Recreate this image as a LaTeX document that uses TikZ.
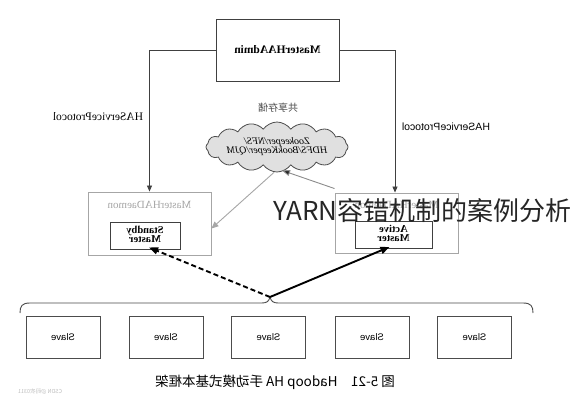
\documentclass[tikz,border=0pt]{standalone}
\usepackage{fontspec}
\usepackage{graphicx}
\setmainfont{Liberation Serif}
\setsansfont{Liberation Sans}
\newfontfamily\cjk{Noto Sans CJK SC}
\usetikzlibrary{shapes.symbols,arrows.meta,calc}
\begin{document}
\begin{tikzpicture}[x=1pt,y=-1pt,
  box/.style={draw=black!75,line width=0.9pt,rectangle,inner sep=0pt},
  daemonbox/.style={draw=black!35,line width=0.9pt,rectangle,inner sep=0pt},
  innerbox/.style={draw=black!75,line width=0.9pt,rectangle,inner sep=0pt,minimum height=27,font=\fontsize{10.5}{11}\selectfont\bfseries,align=center},
  slavebox/.style={draw=black!70,line width=0.8pt,rectangle,minimum width=74,minimum height=42,font=\sffamily\fontsize{9.5}{10}\selectfont},
  lbl/.style={inner sep=0pt},
  conn/.style={draw=black!75,line width=0.8pt,-{Triangle[length=6pt,width=5pt]}},
  greyconn/.style={draw=black!35,line width=0.9pt,-{Triangle[length=7pt,width=6pt]}},
  darkconn/.style={draw=black!45,line width=0.9pt,-{Triangle[length=8pt,width=6pt,fill=black!85]}},
  thick/.style={line width=1.9pt,-{Triangle[length=9pt,width=7pt]}}
]
\useasboundingbox (0,0) rectangle (575,400);
\fill[white] (0,0) rectangle (575,400);

% MasterHAAdmin
\node[box,minimum width=123,minimum height=62,font=\fontsize{11.5}{13}\selectfont\bfseries] (admin) at (277.5,50) {\reflectbox{MasterHAAdmin}};

% shared storage
\node[lbl,font=\cjk\fontsize{10}{11}\selectfont,text=black!70] (sharedlbl) at (278,108) {\reflectbox{共享存储}};
\node[cloud,cloud puffs=16,cloud puff arc=110,aspect=3,draw=black!70,fill=black!12,line width=0.8pt,minimum width=142,minimum height=50,inner sep=0pt] (cloud) at (277,147) {};
\node[lbl,font=\fontsize{10}{11}\selectfont\itshape,align=center] (cloudtxt) at (277,147) {\reflectbox{\begin{tabular}{@{}c@{}}Zookeeper/NFS/\\[-2pt]HDFS/BookKeeper/QJM\end{tabular}}};

% daemons
\node[daemonbox,minimum width=123,minimum height=63] (daemonL) at (149.5,223.5) {};
\node[lbl,font=\fontsize{11}{12}\selectfont,text=black!35] (daemonLtxt) at (149.5,205) {\reflectbox{MasterHADaemon}};
\node[innerbox,minimum width=70] (standby) at (145,235.5) {\reflectbox{\begin{tabular}{@{}c@{}}Standby\\[-2pt]Master\end{tabular}}};

\node[daemonbox,minimum width=123,minimum height=60] (daemonR) at (396.5,223) {};
\node[lbl,font=\fontsize{11}{12}\selectfont,text=black!35] (daemonRtxt) at (396.5,205) {\reflectbox{MasterHADaemon}};
\node[innerbox,minimum width=77] (active) at (393.5,235) {\reflectbox{\begin{tabular}{@{}c@{}}Active\\[-2pt]Master\end{tabular}}};

% protocol connectors
\draw[conn] (admin.west) -| (daemonL.north);
\draw[conn] (admin.east) -| ([xshift=-1.5pt]daemonR.north);
\node[lbl,font=\fontsize{11.5}{12}\selectfont] (protoL) at (98,117) {\reflectbox{HAServiceProtocol}};
\node[lbl,font=\sffamily\fontsize{10.5}{12}\selectfont] (protoR) at (446,127) {\reflectbox{HAServiceProtocol}};

% storage connectors
\draw[greyconn] ([xshift=-3pt]cloud.south) -- ([yshift=-5pt]daemonL.east);
\draw[darkconn] ([yshift=4pt]daemonR.north west) -- ([xshift=5pt,yshift=2pt]cloud.south);

% brace
\coordinate (tip) at (270,297);
\draw[black!70,line width=0.9pt] (20,313) .. controls (20,306) and (22,303) .. (30,303) -- (262,303) .. controls (267,303) and (269,301) .. (tip) .. controls (271,301) and (273,303) .. (278,303) -- (523,303) .. controls (531,303) and (533,306) .. (533,313);

% failover arrows
\draw[thick,dashed,dash pattern=on 5pt off 3pt] (tip) -- ([xshift=4pt,yshift=2pt]standby.south);
\draw[thick] (tip) -- ([xshift=-4pt,yshift=2pt]active.south);

% slaves
\foreach \i/\x in {1/63,2/166,3/268.5,4/372,5/474.5}{
  \node[slavebox] (slave\i) at (\x,337) {\reflectbox{Slave}};
}

% caption
\node[lbl,font=\cjk\fontsize{13.5}{15}\selectfont] (caption) at (275,382) {\reflectbox{图 5-21\quad Hadoop HA 手动模式基本框架}};
\node[lbl,font=\cjk\fontsize{5.5}{6}\selectfont,text=black!25] (csdn) at (40,392) {\reflectbox{CSDN @码农0311}};

% overlay watermark
\node[lbl,anchor=west,font=\cjk\fontsize{26}{28}\selectfont,text=black!85] (wm) at (273,211) {YARN容错机制的案例分析};
\end{tikzpicture}
\end{document}
